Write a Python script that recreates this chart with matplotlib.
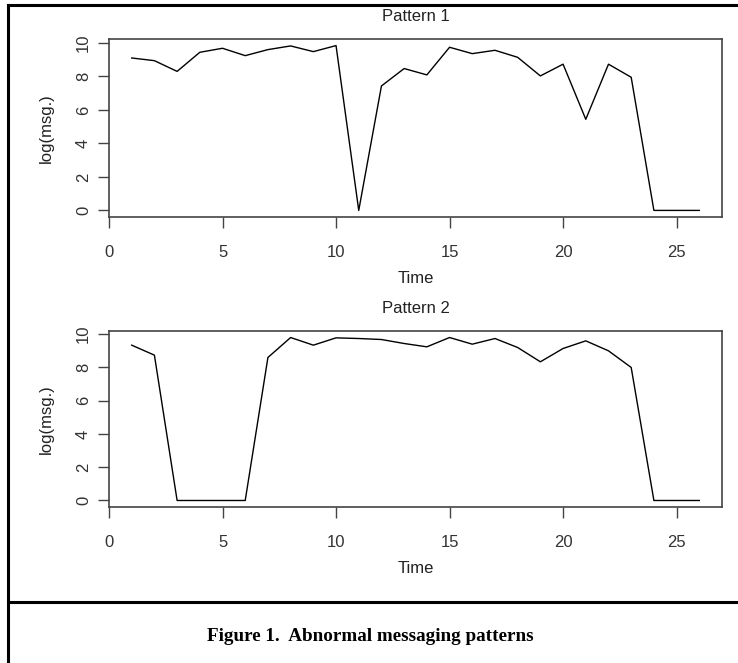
import matplotlib.pyplot as plt
from matplotlib.lines import Line2D

time = list(range(1, 27))

pattern1 = [9.1, 8.94, 8.3, 9.44, 9.68, 9.24, 9.6, 9.82, 9.48, 9.84,
            0.0, 7.43, 8.47, 8.09, 9.74, 9.36, 9.56, 9.14, 8.03, 8.73,
            5.44, 8.73, 7.95, 0.0, 0.0, 0.0]
pattern2 = [9.34, 8.74, 0.0, 0.0, 0.0, 0.0, 8.6, 9.8, 9.34, 9.78,
            9.74, 9.68, 9.44, 9.24, 9.8, 9.4, 9.74, 9.2, 8.34, 9.14,
            9.6, 9.0, 8.0, 0.0, 0.0, 0.0]

titles = ["Pattern 1", "Pattern 2"]
xticks = [0, 5, 10, 15, 20, 25]
yticks = [0, 2, 4, 6, 8, 10]
caption = "Figure 1.  Abnormal messaging patterns"

plt.rcParams['font.family'] = ['Liberation Sans', 'DejaVu Sans']

W, H = 738, 663
fig = plt.figure(figsize=(W / 100, H / 100), dpi=100)


def r_lims(vals):
    # R style 4% padding on each side
    lo, hi = min(vals), max(vals)
    pad = (hi - lo) * 0.04
    return lo - pad, hi + pad


boxes = [(109, 39, 722, 217), (109, 331, 722, 507)]

for (l, t, r, b), title, ys in zip(boxes, titles, [pattern1, pattern2]):
    ax = fig.add_axes([l / W, 1 - b / H, (r - l) / W, (b - t) / H])
    ax.plot(time, ys, color='black', lw=1.0)
    ax.set_xlim(*r_lims(time))
    ax.set_ylim(*r_lims(ys))
    ax.set_xticks(xticks)
    ax.set_yticks(yticks)
    ax.tick_params(direction='out', length=8, width=1.0, color='#444444',
                   labelsize=12, labelcolor='#333333')
    ax.tick_params(axis='x', pad=12)
    ax.tick_params(axis='y', pad=5)
    for lab in ax.get_yticklabels():
        lab.set_rotation(90)
        lab.set_va('center')
    for s in ax.spines.values():
        s.set_color('#444444')
        s.set_linewidth(1.2)
    ax.set_title(title, fontsize=12, color='#222222', pad=13)
    ax.set_xlabel("Time", fontsize=12, color='#222222', labelpad=8)
    ax.set_ylabel("log(msg.)", fontsize=12, color='#222222', labelpad=16)

# frame around the figure and caption separator
fig.add_artist(Line2D([7.5 / W, 7.5 / W], [0, 1 - 5 / H], color='black', lw=2.2,
                      transform=fig.transFigure))
fig.add_artist(Line2D([7.5 / W, 1], [1 - 5 / H, 1 - 5 / H], color='black', lw=2.2,
                      transform=fig.transFigure))
fig.add_artist(Line2D([7.5 / W, 1], [1 - 602 / H, 1 - 602 / H], color='black', lw=2.2,
                      transform=fig.transFigure))

fig.text(370 / W, 1 - 641 / H, caption, ha='center', va='baseline',
         family=['Liberation Serif', 'DejaVu Serif'], weight='bold', fontsize=13.8)

fig.savefig('out.png', dpi=100)
